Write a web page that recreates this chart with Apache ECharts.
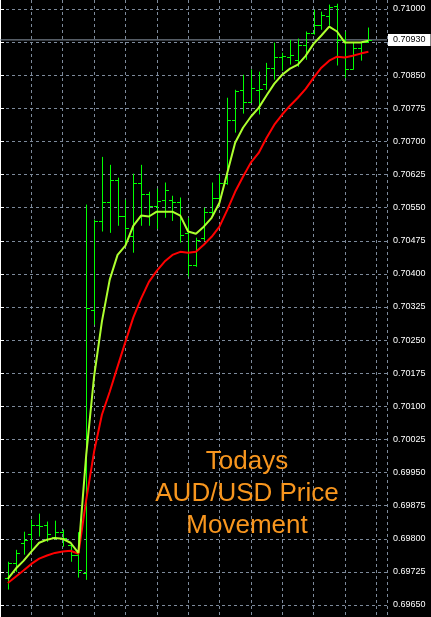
<!DOCTYPE html>
<html>
<head>
<meta charset="utf-8">
<title>AUD/USD</title>
<script src="https://cdn.jsdelivr.net/npm/echarts@6/dist/echarts.min.js"></script>
<style>
  html, body { margin: 0; padding: 0; background: #000; }
  #chart { width: 431px; height: 617px; }
</style>
</head>
<body>
<div id="chart"></div>
<script>
// price bars, oldest first
const OPEN = [0.69712, 0.69746, 0.69791, 0.69810, 0.69832, 0.69832, 0.69805, 0.69815, 0.69786, 0.69764,
  0.69723, 0.70319, 0.70520, 0.70563, 0.70613, 0.70530, 0.70486, 0.70607, 0.70582, 0.70554,
  0.70568, 0.70568, 0.70563, 0.70493, 0.70421, 0.70482, 0.70541, 0.70573, 0.70607, 0.70749,
  0.70817, 0.70790, 0.70817, 0.70829, 0.70867, 0.70892, 0.70892, 0.70885, 0.70919, 0.70946,
  0.70964, 0.70985, 0.71007, 0.70930, 0.70865, 0.70912, 0.70926];
const HIGH = [0.69748, 0.69775, 0.69816, 0.69843, 0.69857, 0.69839, 0.69841, 0.69821, 0.69791, 0.69815,
  0.70557, 0.70523, 0.70665, 0.70647, 0.70618, 0.70568, 0.70627, 0.70647, 0.70586, 0.70593,
  0.70607, 0.70577, 0.70573, 0.70527, 0.70482, 0.70550, 0.70607, 0.70627, 0.70799, 0.70817,
  0.70851, 0.70863, 0.70858, 0.70878, 0.70924, 0.70901, 0.70930, 0.70933, 0.70949, 0.70998,
  0.70994, 0.71010, 0.71012, 0.70949, 0.70924, 0.70924, 0.70958];
const LOW = [0.69685, 0.69725, 0.69764, 0.69775, 0.69805, 0.69793, 0.69798, 0.69782, 0.69748, 0.69712,
  0.69707, 0.70285, 0.70496, 0.70493, 0.70509, 0.70464, 0.70448, 0.70509, 0.70509, 0.70502,
  0.70527, 0.70520, 0.70471, 0.70394, 0.70416, 0.70475, 0.70534, 0.70557, 0.70602, 0.70720,
  0.70763, 0.70788, 0.70761, 0.70817, 0.70840, 0.70860, 0.70874, 0.70869, 0.70885, 0.70942,
  0.70953, 0.70962, 0.70872, 0.70844, 0.70863, 0.70883, 0.70926];
const CLOSE = [0.69746, 0.69768, 0.69798, 0.69832, 0.69830, 0.69810, 0.69815, 0.69802, 0.69764, 0.69730,
  0.70323, 0.70520, 0.70563, 0.70613, 0.70530, 0.70505, 0.70607, 0.70582, 0.70554, 0.70566,
  0.70591, 0.70563, 0.70489, 0.70421, 0.70477, 0.70541, 0.70573, 0.70607, 0.70749, 0.70815,
  0.70790, 0.70822, 0.70819, 0.70867, 0.70892, 0.70893, 0.70896, 0.70919, 0.70946, 0.70964,
  0.70987, 0.71005, 0.70930, 0.70865, 0.70912, 0.70926, 0.70930];

// moving averages
const FAST_MA = [0.69709, 0.69732, 0.69750, 0.69771, 0.69791, 0.69798, 0.69802, 0.69800, 0.69791, 0.69768,
  0.69990, 0.70167, 0.70292, 0.70387, 0.70443, 0.70464, 0.70509, 0.70532, 0.70530, 0.70541,
  0.70541, 0.70541, 0.70532, 0.70496, 0.70491, 0.70507, 0.70527, 0.70561, 0.70629, 0.70697,
  0.70731, 0.70756, 0.70776, 0.70804, 0.70831, 0.70851, 0.70865, 0.70874, 0.70894, 0.70921,
  0.70940, 0.70960, 0.70949, 0.70924, 0.70924, 0.70924, 0.70928];
const SLOW_MA = [0.69700, 0.69714, 0.69728, 0.69743, 0.69755, 0.69762, 0.69768, 0.69771, 0.69773, 0.69766,
  0.69888, 0.69997, 0.70081, 0.70133, 0.70190, 0.70246, 0.70301, 0.70344, 0.70382, 0.70407,
  0.70428, 0.70443, 0.70450, 0.70448, 0.70450, 0.70466, 0.70484, 0.70507, 0.70545, 0.70586,
  0.70620, 0.70652, 0.70674, 0.70708, 0.70738, 0.70761, 0.70781, 0.70799, 0.70819, 0.70844,
  0.70867, 0.70883, 0.70892, 0.70890, 0.70894, 0.70899, 0.70903];

const PRICE_MIN = 0.6965;
const PRICE_MAX = 0.71;
const PRICE_STEP = 0.00075;
const TITLE = "Todays\nAUD/USD Price\nMovement";

const BAR_COLOR = "#00ff00";
const FAST_COLOR = "#adff2f";
const SLOW_COLOR = "#ff0000";
const GRID_COLOR = "#7d8a9b";
const X_MAX = 49.375; // axis span in bar units, bar 1 sits at the left edge

const lastPrice = CLOSE[CLOSE.length - 1];
const barNo = CLOSE.map((_, i) => i + 1);

const bars = barNo.map((n, i) => [n, OPEN[i], CLOSE[i], HIGH[i], LOW[i]]);
const fast = barNo.map((n, i) => [n, FAST_MA[i]]);
const slow = barNo.map((n, i) => [n, SLOW_MA[i]]);

function renderBar(params, api) {
  const n = api.value(0);
  const hi = api.coord([n, api.value(3)]);
  const lo = api.coord([n, api.value(4)]);
  const op = api.coord([n, api.value(1)]);
  const cl = api.coord([n, api.value(2)]);
  const x = Math.round(hi[0]) + 0.5;
  const crisp = (y) => Math.round(y) + 0.5;
  const style = { stroke: BAR_COLOR, lineWidth: 1 };
  return {
    type: "group",
    children: [
      { type: "line", shape: { x1: x, y1: hi[1], x2: x, y2: lo[1] }, style },
      { type: "line", shape: { x1: x - 3.5, y1: crisp(op[1]), x2: x, y2: crisp(op[1]) }, style },
      { type: "line", shape: { x1: x, y1: crisp(cl[1]), x2: x + 3.5, y2: crisp(cl[1]) }, style },
    ],
  };
}

const chart = echarts.init(document.getElementById("chart"));

const dashed = { color: GRID_COLOR, type: [3, 3], width: 1 };

chart.setOption({
  backgroundColor: "#000",
  animation: false,
  grid: [
    { left: -8, right: 44, top: 9, bottom: 12 },
    { left: -8, right: 44, top: 0, bottom: 0 },
  ],
  xAxis: [
    { type: "value", gridIndex: 0, min: 0, max: X_MAX, show: false },
    {
      type: "value", gridIndex: 1, min: 0, max: X_MAX, interval: 4,
      axisLine: { show: false }, axisTick: { show: false }, axisLabel: { show: false },
      splitLine: { show: true, lineStyle: dashed },
    },
  ],
  yAxis: [
    {
      type: "value", gridIndex: 0, position: "right",
      min: PRICE_MIN, max: PRICE_MAX, interval: PRICE_STEP,
      axisLine: { show: false },
      axisTick: { show: true, length: 4, lineStyle: { color: "#fff" } },
      axisLabel: {
        color: "#fff", fontSize: 9, fontFamily: "Liberation Sans", margin: 6,
        formatter: (v) => v.toFixed(5),
      },
      splitLine: { show: true, lineStyle: dashed },
    },
    {
      type: "value", gridIndex: 1, position: "right",
      axisLine: { show: true, lineStyle: { color: "#fff", width: 1 } },
      axisTick: { show: false }, axisLabel: { show: false }, splitLine: { show: false },
    },
  ],
  graphic: [
    {
      type: "text", x: 247, y: 446, z: 10,
      style: {
        text: TITLE, fill: "#f8961e",
        font: '26px "Liberation Sans"',
        align: "center", textAlign: "center",
        verticalAlign: "top", textVerticalAlign: "top",
        lineHeight: 32,
      },
    },
  ],
  series: [
    {
      // current bid line with its price tag on the axis
      type: "line", name: "Bid", xAxisIndex: 0, yAxisIndex: 0,
      data: [[0, lastPrice], [X_MAX, lastPrice]],
      symbol: "none", z: 1, silent: true,
      lineStyle: { color: "#8c99a8", width: 1 },
      endLabel: {
        show: true, distance: 1,
        color: "#000", backgroundColor: "#fff",
        fontSize: 9, fontFamily: "Liberation Sans",
        padding: [2, 5, 1, 5],
        formatter: () => lastPrice.toFixed(5),
      },
    },
    {
      type: "custom", name: "AUDUSD", xAxisIndex: 0, yAxisIndex: 0,
      renderItem: renderBar, clip: false,
      encode: { x: 0, y: [1, 2, 3, 4] },
      data: bars, z: 2,
    },
    {
      type: "line", name: "Slow MA", xAxisIndex: 0, yAxisIndex: 0,
      data: slow, symbol: "none", z: 3,
      lineStyle: { color: SLOW_COLOR, width: 2 },
    },
    {
      type: "line", name: "Fast MA", xAxisIndex: 0, yAxisIndex: 0,
      data: fast, symbol: "none", z: 4,
      lineStyle: { color: FAST_COLOR, width: 2 },
    },
  ],
});
</script>
</body>
</html>
